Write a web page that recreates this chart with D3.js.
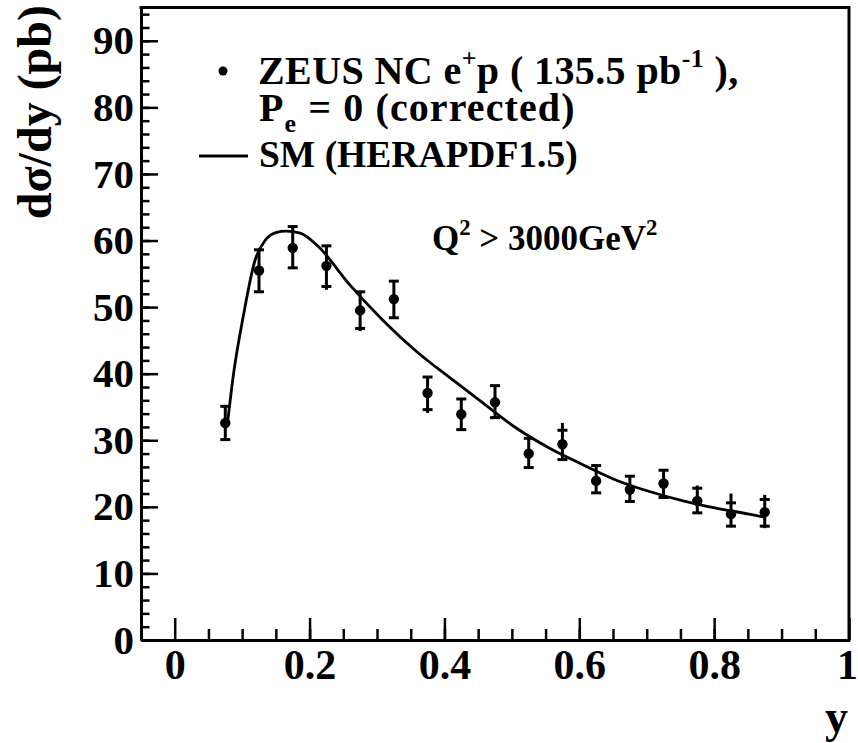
<!DOCTYPE html>
<html>
<head>
<meta charset="utf-8">
<script src="https://cdn.jsdelivr.net/npm/d3@7"></script>
<style>
  body { margin: 0; background: #fff; }
  text { font-family: "Liberation Serif", "Times New Roman", serif; font-weight: bold; fill: #000; }
</style>
</head>
<body>
<svg width="858" height="743"></svg>
<script>
// ZEUS NC e+p, d sigma / dy, Q2 > 3000 GeV2
const yBins   = [0.075, 0.125, 0.175, 0.225, 0.275, 0.325, 0.375, 0.425, 0.475, 0.525, 0.575, 0.625, 0.675, 0.725, 0.775, 0.825, 0.875];
const xsec    = [32.6, 55.5, 58.9, 56.2, 49.5, 51.2, 37.1, 33.9, 35.7, 28.0, 29.4, 23.9, 22.6, 23.5, 20.9, 18.9, 19.2];
const statUp  = [2.5, 3.1, 3.2, 3.0, 2.8, 2.7, 2.4, 2.3, 2.5, 2.3, 2.1, 2.3, 2.0, 2.0, 1.9, 1.7, 1.9];
const statDn  = [2.5, 3.2, 3.0, 3.1, 2.7, 2.8, 2.5, 2.3, 2.3, 2.1, 2.3, 1.8, 1.8, 2.1, 1.8, 1.8, 2.1];
const totUp   = [2.5, 3.1, 3.2, 3.0, 2.8, 2.7, 2.4, 2.3, 2.5, 2.3, 3.2, 2.3, 2.0, 2.0, 2.3, 3.1, 2.6];
const totDn   = [2.5, 3.2, 3.0, 3.6, 3.1, 2.8, 3.0, 2.3, 2.3, 2.1, 2.3, 1.8, 1.8, 2.1, 1.9, 1.8, 2.4];

// SM (HERAPDF1.5) prediction
const smY     = [0.078, 0.087, 0.102, 0.119, 0.134, 0.150, 0.165, 0.186, 0.211, 0.260, 0.309, 0.359, 0.408, 0.457, 0.507, 0.556, 0.606, 0.655, 0.704, 0.754, 0.803, 0.852, 0.877];
const smXsec  = [32.3, 39.8, 48.8, 57.0, 60.0, 61.2, 61.4, 61.1, 59.3, 53.3, 48.0, 43.3, 39.4, 35.6, 31.8, 28.8, 26.3, 24.0, 22.3, 20.9, 19.8, 18.9, 18.4];

const xTicks = [0, 0.2, 0.4, 0.6, 0.8, 1];
const xMinor = d3.range(1, 20).map(i => +(i * 0.05).toFixed(2));
const yTicks = [0, 10, 20, 30, 40, 50, 60, 70, 80, 90];
const yMinor = d3.range(1, 48).map(i => i * 2);

const svg = d3.select('svg');

const x = d3.scaleLinear().domain([-0.05, 1]).range([141, 849]);
const y = d3.scaleLinear().domain([0, 95]).range([640, 7.5]);

function styleAxis(g, fs) {
  g.attr('font-family', null).attr('font-size', null);
  g.select('.domain').attr('stroke-width', 3);
  g.selectAll('.tick line').attr('stroke-width', 2.5);
  g.selectAll('text').style('font-size', fs + 'px');
}

// minor ticks
svg.append('g').attr('transform', 'translate(0,640)')
  .call(d3.axisBottom(x).tickValues(xMinor).tickSizeInner(-11).tickSizeOuter(0).tickFormat(''))
  .call(g => styleAxis(g, 40));
svg.append('g').attr('transform', 'translate(141,0)')
  .call(d3.axisLeft(y).tickValues(yMinor).tickSizeInner(-8.5).tickSizeOuter(0).tickFormat(''))
  .call(g => styleAxis(g, 40));

// major ticks + labels
svg.append('g').attr('transform', 'translate(0,640)')
  .call(d3.axisBottom(x).tickValues(xTicks).tickSizeInner(-22).tickSizeOuter(0).tickPadding(9).tickFormat(d => d))
  .call(g => styleAxis(g, 42))
  .call(g => g.selectAll('.tick text').filter(d => d === 1).attr('dx', -2));
svg.append('g').attr('transform', 'translate(141,0)')
  .call(d3.axisLeft(y).tickValues(yTicks).tickSizeInner(-17).tickSizeOuter(0).tickPadding(7).tickFormat(d => d))
  .call(g => styleAxis(g, 41));

// frame top/right
svg.append('path')
  .attr('d', `M${x(-0.05)},${y(95)}H${x(1)}V${y(0)}`)
  .attr('fill', 'none').attr('stroke', '#000').attr('stroke-width', 3)
  .attr('stroke-linecap', 'square');

// axis titles
svg.append('text')
  .attr('transform', 'translate(51,5) rotate(-90)')
  .attr('text-anchor', 'end')
  .style('font-size', '48px')
  .text('dσ/dy (pb)');
svg.append('text')
  .attr('x', 848).attr('y', 732)
  .attr('text-anchor', 'end')
  .style('font-size', '46px')
  .text('y');

// SM curve
const smLine = d3.line()
  .x((d, i) => x(smY[i]))
  .y(d => y(d))
  .curve(d3.curveMonotoneX);
svg.append('path')
  .attr('d', smLine(smXsec))
  .attr('fill', 'none').attr('stroke', '#000').attr('stroke-width', 2.8);

// data points with error bars
const pts = svg.append('g').selectAll('g')
  .data(xsec)
  .enter()
  .append('g');

pts.append('line')
  .attr('x1', (d, i) => x(yBins[i])).attr('x2', (d, i) => x(yBins[i]))
  .attr('y1', (d, i) => y(d + totUp[i])).attr('y2', (d, i) => y(d - totDn[i]))
  .attr('stroke', '#000').attr('stroke-width', 3);
pts.append('line')
  .attr('x1', (d, i) => x(yBins[i]) - 5).attr('x2', (d, i) => x(yBins[i]) + 5)
  .attr('y1', (d, i) => y(d + statUp[i])).attr('y2', (d, i) => y(d + statUp[i]))
  .attr('stroke', '#000').attr('stroke-width', 3);
pts.append('line')
  .attr('x1', (d, i) => x(yBins[i]) - 5).attr('x2', (d, i) => x(yBins[i]) + 5)
  .attr('y1', (d, i) => y(d - statDn[i])).attr('y2', (d, i) => y(d - statDn[i]))
  .attr('stroke', '#000').attr('stroke-width', 3);
pts.append('circle')
  .attr('cx', (d, i) => x(yBins[i]))
  .attr('cy', d => y(d))
  .attr('r', 5.2)
  .attr('fill', '#000');

// legend
function richText(g, px, py, fs, parts, spacing) {
  const t = g.append('text').attr('x', px).attr('y', py).style('font-size', fs + 'px');
  if (spacing) t.style('letter-spacing', spacing + 'px');
  parts.forEach(p => {
    const s = t.append('tspan').text(p.t);
    if (p.sup) s.style('font-size', (fs * 0.65) + 'px').attr('dy', -fs * 0.42);
    if (p.sub) s.style('font-size', (fs * 0.65) + 'px').attr('dy', fs * 0.28);
    if (p.back) s.attr('dy', p.back);
  });
  return t;
}

const leg = svg.append('g');
leg.append('circle').attr('cx', 223).attr('cy', 71).attr('r', 4.5).attr('fill', '#000');
richText(leg, 258, 84, 40, [
  { t: 'ZEUS NC e' }, { t: '+', sup: true }, { t: 'p ( 135.5 pb', back: 40 * 0.42 },
  { t: '-1', sup: true }, { t: ' ),', back: 40 * 0.42 }
], 0.4);
richText(leg, 259, 121, 40, [
  { t: 'P' }, { t: 'e', sub: true }, { t: ' = 0 (corrected)', back: -40 * 0.28 }
], 1.1);
leg.append('line').attr('x1', 199).attr('x2', 248).attr('y1', 156).attr('y2', 156)
  .attr('stroke', '#000').attr('stroke-width', 2.8);
richText(leg, 259, 167, 37.5, [{ t: 'SM (HERAPDF1.5)' }]);

// Q2 cut label
richText(svg, 432, 250, 35, [
  { t: 'Q' }, { t: '2', sup: true }, { t: ' > 3000GeV', back: 35 * 0.42 }, { t: '2', sup: true }
]);
</script>
</body>
</html>
